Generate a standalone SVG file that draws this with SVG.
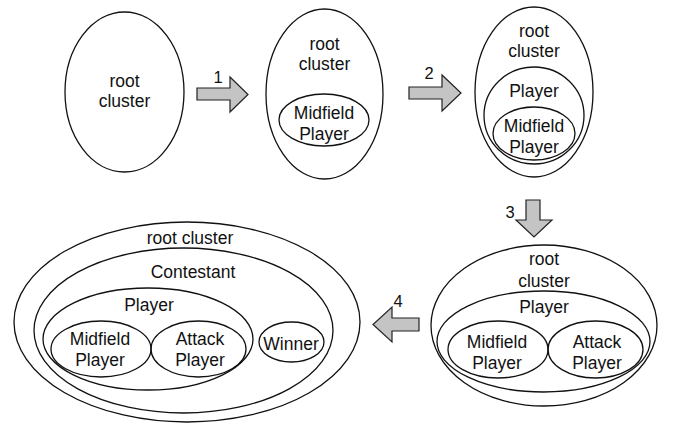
<svg xmlns="http://www.w3.org/2000/svg" width="681" height="424" viewBox="0 0 681 424">
<style>
.e{fill:none;stroke:#111;stroke-width:1.3}
.t{font-family:"Liberation Sans",Arial,sans-serif;font-size:17.5px;fill:#111;text-anchor:middle}
.n{font-family:"Liberation Sans",Arial,sans-serif;font-size:16.5px;fill:#111;text-anchor:middle}
.a{fill:#c4c4c4;stroke:#222;stroke-width:1.2;stroke-linejoin:miter}
</style>
<rect width="681" height="424" fill="#fff"/>
<g id="stage1">
<ellipse class="e" cx="124.5" cy="92" rx="59.5" ry="80"/>
<text class="t" x="124.5" y="87">root</text>
<text class="t" x="124.5" y="107">cluster</text>
</g>
<g id="stage2">
<ellipse class="e" cx="324.5" cy="94" rx="58.5" ry="85"/>
<text class="t" x="324.5" y="50">root</text>
<text class="t" x="324.5" y="70">cluster</text>
<g id="stage2-midfield">
<ellipse class="e" cx="324" cy="120" rx="45" ry="26"/>
<text class="t" x="324" y="119">Midfield</text>
<text class="t" x="324" y="140">Player</text>
</g>
</g>
<g id="stage3">
<ellipse class="e" cx="534" cy="92" rx="59" ry="85"/>
<text class="t" x="534" y="37">root</text>
<text class="t" x="534" y="57">cluster</text>
<g id="stage3-player">
<ellipse class="e" cx="534" cy="115.5" rx="50" ry="48.5"/>
<text class="t" x="534" y="97">Player</text>
</g>
<g id="stage3-midfield">
<ellipse class="e" cx="534" cy="133.5" rx="41" ry="26.5"/>
<text class="t" x="534" y="132">Midfield</text>
<text class="t" x="534" y="153">Player</text>
</g>
</g>
<g id="stage4">
<ellipse class="e" cx="544" cy="325.5" rx="113" ry="80.5"/>
<text class="t" x="544" y="265">root</text>
<text class="t" x="544" y="287">cluster</text>
<g id="stage4-player">
<ellipse class="e" cx="543.5" cy="341.5" rx="106.5" ry="50.5"/>
<text class="t" x="544" y="313">Player</text>
</g>
<g id="stage4-midfield">
<ellipse class="e" cx="498" cy="349.5" rx="50" ry="28.5"/>
<text class="t" x="497" y="348">Midfield</text>
<text class="t" x="497" y="369">Player</text>
</g>
<g id="stage4-attack">
<ellipse class="e" cx="595.5" cy="349.5" rx="47.5" ry="28.5"/>
<text class="t" x="597" y="348">Attack</text>
<text class="t" x="597" y="369">Player</text>
</g>
</g>
<g id="stage5">
<ellipse class="e" cx="187" cy="322" rx="173" ry="100"/>
<text class="t" x="190" y="244">root cluster</text>
<g id="stage5-contestant">
<ellipse class="e" cx="183.5" cy="330.5" rx="149.5" ry="82.5"/>
<text class="t" x="193" y="278">Contestant</text>
</g>
<g id="stage5-player">
<ellipse class="e" cx="148" cy="339" rx="105" ry="51"/>
<text class="t" x="149" y="311">Player</text>
</g>
<g id="stage5-midfield">
<ellipse class="e" cx="101" cy="349" rx="50" ry="28"/>
<text class="t" x="100" y="345">Midfield</text>
<text class="t" x="100" y="366">Player</text>
</g>
<g id="stage5-attack">
<ellipse class="e" cx="198.5" cy="349" rx="47.5" ry="28"/>
<text class="t" x="200" y="345">Attack</text>
<text class="t" x="200" y="366">Player</text>
</g>
<g id="stage5-winner">
<ellipse class="e" cx="291.5" cy="342" rx="32.5" ry="20"/>
<text class="t" x="291" y="350">Winner</text>
</g>
</g>
<g id="connectors">
<polygon class="a" points="197,88 230,88 230,77 248,94.5 230,112 230,100 197,100"/>
<text class="n" x="218" y="83">1</text>
<polygon class="a" points="409,87 442,87 442,75 461,93 442,111 442,99 409,99"/>
<text class="n" x="429" y="79">2</text>
<polygon class="a" points="526,200 540,200 540,220 552,220 534,237 516,220 526,220"/>
<text class="n" x="510" y="218">3</text>
<polygon class="a" points="419,318 419,331 392,331 392,342 373,324.5 392,307 392,318"/>
<text class="n" x="398" y="307">4</text>
</g>
</svg>
